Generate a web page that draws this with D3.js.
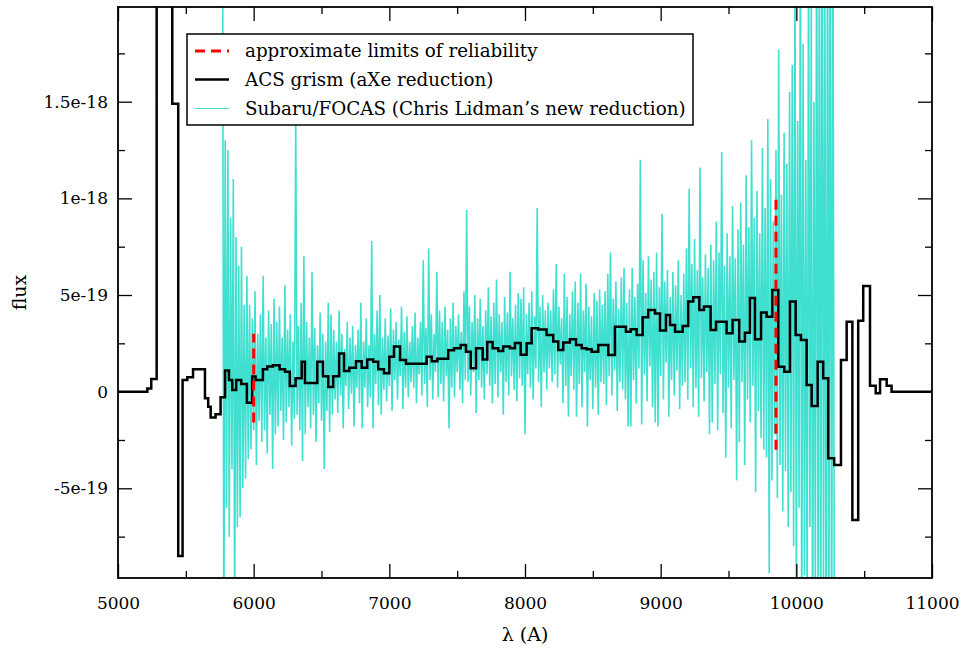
<!DOCTYPE html>
<html>
<head>
<meta charset="utf-8">
<script src="https://cdn.jsdelivr.net/npm/d3@7"></script>
<style>
  body { margin: 0; background: #fff; }
  text { font-family: "DejaVu Serif", "Liberation Serif", serif; fill: #000; }
</style>
</head>
<body>
<svg id="chart" width="965" height="663"></svg>
<script>
// ---- data (flux in units of 1e-19) ----

// ACS grism, aXe reduction: left edge of each step (Å) and its flux
const acsWave = [5000, 5216, 5245, 5285, 5400, 5444, 5476, 5511, 5553, 5641, 5665, 5683, 5719, 5756,
  5789, 5818, 5842, 5871, 5908, 5950, 5989, 6014, 6068, 6100, 6142, 6191, 6231, 6266, 6309, 6354,
  6378, 6469, 6511, 6550, 6586, 6630, 6666, 6705, 6754, 6796, 6837, 6881, 6918, 6961, 7000, 7034,
  7079, 7123, 7275, 7312, 7354, 7434, 7477, 7526, 7565, 7600, 7639, 7688, 7722, 7761, 7803, 7839,
  7889, 7926, 7968, 8012, 8049, 8097, 8159, 8208, 8245, 8282, 8331, 8376, 8418, 8454, 8491, 8540,
  8614, 8663, 8744, 8779, 8823, 8867, 8908, 8958, 8995, 9039, 9069, 9106, 9162, 9203, 9240, 9285,
  9319, 9368, 9408, 9486, 9530, 9579, 9621, 9658, 9695, 9740, 9781, 9823, 9867, 9911, 9953, 9995,
  10034, 10076, 10113, 10157, 10198, 10235, 10279, 10329, 10371, 10413, 10456, 10493, 10543, 10585,
  10617, 10666, 10702];
const acsFlux = [0, 0.17, 0.66, 30, 14.9, -8.5, 0.6, 0.74, 1.16, -0.34, -0.78, -1.34, -1.17, -0.29,
  1.1, 0.6, 0.09, 0.6, 0.4, -0.57, 0.78, 0.6, 1.16, 1.3, 1.37, 1.16, 1.03, 0.29, 0.69, 1.55,
  0.45, 1.55, 0.8, 0.24, 0.8, 1.97, 1.07, 1.24, 1.57, 1.24, 1.67, 1.55, 1.16, 0.95, 1.81, 2.33,
  1.64, 1.45, 1.81, 1.57, 1.7, 2.14, 2.24, 2.41, 2.07, 1.21, 2.24, 1.67, 2.57, 2.24, 2.1, 2.33,
  2.24, 2.52, 1.91, 2.5, 3.28, 3.22, 2.93, 2.59, 2.16, 2.54, 2.71, 2.42, 2.24, 2.19, 2.07, 2.42,
  1.9, 3.36, 3.1, 3.23, 2.93, 3.85, 4.23, 4.05, 3.16, 3.97, 3.45, 3.1, 3.4, 4.66, 4.88, 4.23,
  4.4, 3.19, 3.62, 3.02, 3.71, 2.59, 3.05, 4.85, 2.71, 4.09, 3.88, 5.26, 1.29, 1.03, 4.66, 2.93,
  2.67, 0.35, -0.74, 1.55, 0.69, -3.45, -3.79, 1.64, 3.62, -6.64, 3.67, 5.47, 0.3, -0.08,
  0.64, 0.3, 0];
const acsEnd = 11000;

// Subaru/FOCAS spectrum: uniform sampling from focasStart in steps of focasStep Å
const focasStart = 5770;
const focasStep = 10;
const focasFlux = [
  30, -14, 13, -6, 12.5, -7.5, 9, -4, 11, -12, 8, -7, 6.5, -6.5, 7.5, -5, 4.5, -4.5, 6, -3.5,
  4.5, -3, 3.8, -2, 5.2, -3.8, 3, -1.5, 4, -2.6, 6, -2, 2.8, -3.2, 4.2, -1.2, 3.5, -4, 4.8, -2.2,
  3.6, -1.8, 4.4, -1, 2.8, -2.5, 5.5, -1.6, 3.2, -0.8, 4, -2.8, 2.6, -1.4, 14, -1.2, 3.4, -2, 4.6, -3.6,
  7, -2.2, 3.6, -0.8, 2.8, -1.9, 6.2, -1.2, 3.3, -2.6, 2.4, -0.6, 4.1, -1.5, 3, -4, 2.6, -1, 4.6, -2.1,
  4, -1.2, 3.2, -0.4, 2.6, -1.1, 4.2, -0.2, 3, -1.9, 2.2, 0.3, 3.6, -0.9, 2.8, -0.1, 3.4, -1.8, 2.4, 0.2,
  3.2, -0.6, 4.6, -1.9, 2.6, 0.2, 3.8, -0.8, 2.4, -0.3, 7.8, -1.9, 3, 0.4, 4.2, -0.7, 5, -1.2, 2.8, 0.1,
  3.8, -0.5, 2.9, 0.3, 4.3, -1, 3.2, 0.6, 3.6, -0.4, 2.7, 0.8, 4.4, -0.9, 3.1, 0.2, 3.9, -0.3, 2.6, 0.5,
  3.4, 0.2, 4.1, -0.6, 2.8, 0.9, 3.6, -0.2, 6.8, 0.4, 3.3, -0.8, 7.4, 0.6, 4, -0.4, 3, 1, 6.2, -0.3,
  4.2, 0.4, 3.6, -0.5, 4.4, 0.8, 3.2, -1.9, 3.8, 0.2, 4.6, -0.3, 3.4, 1, 4, 0.1, 3.1, -0.6, 5.2, 0.6,
  9.4, 0.5, 4.4, -0.2, 3.6, 1, 5, -1.1, 3.8, 0.6, 4.8, 0.2, 3.4, -0.4, 4.2, 0.9, 5.4, 0.3, 3.9, -0.6,
  4.6, 0.4, 5.8, -0.3, 4, 1, 3.6, -1.2, 4.9, 0.5, 4.1, -0.2, 6.2, 0.8, 3.8, 0.1, 4.5, -0.5, 5.1, 0.7,
  4.8, 0.3, 5.4, -2.2, 4, 0.9, 4.6, 0.2, 5.2, -0.4, 3.9, 1.2, 9.5, 0.5, 4.4, -0.8, 5, 1, 4.2, 0.1,
  4.6, 1.2, 4.2, 0.5, 5.3, 0.9, 6.6, 0.2, 4.4, 1.4, 3.8, -0.6, 6.1, 0.3, 4.9, -1.3, 4, 0.8, 5.2, 0.1,
  5.7, -1.3, 4.6, 0.4, 6.1, -0.8, 4.2, 1, 5.6, -1.8, 4.4, 0.6, 3.9, -0.9, 5.1, 0.2, 4.7, -1.2, 5.3, 0.5,
  4.5, 0.4, 5.2, -0.7, 6.1, 0.8, 7.2, -0.2, 4.8, 1.1, 5.7, -1, 4.3, 0.5, 5.9, 0.1, 6.4, -0.4, 4.6, -1.8,
  5.3, -1.8, 6.4, 0.6, 4.9, -0.6, 5.6, 1.2, 12, -1.7, 6.8, 0.9, 5.1, -0.5, 7, 1.3, 5.8, -0.8, 6.2, -1.6,
  7.2, -1.8, 5.4, 0.8, 9.2, -0.4, 5.7, 1.5, 6.3, -1.3, 4.9, 0.6, 6.2, -0.2, 5.5, 1.1, 6.8, -0.9, 5, 0.3,
  6.1, 0.5, 7.4, -0.4, 10.5, 1.2, 6.6, -0.8, 7.9, 0.2, 6.3, -1.3, 11.6, 0.7, 5.9, -0.5, 7.1, 1, 6.4, -2.2,
  7.6, -1.6, 6.8, 0.4, 8.8, -2, 7.2, 0.9, 12.4, -1.1, 6.5, -3.4, 8.2, 0.2, 7, -1.9, 9.6, 0.6, 6.9, -4.6,
  8.4, -2.6, 9.8, 0.5, 7.6, -3.8, 11.2, -0.4, 8.5, -1.6, 13, 0.3, 9, -5.2, 10.4, -1, 8.2, -2.4, 12.6, -3,
  9.5, -3.4, 14.1, -9.4, 11, -4.6, 8.8, -2.2, 12.5, -5.5, 17.7, -3.8, 10.2, -6.2, 13.4, -4.1, 11.8, -7, 15.5, -5.2,
  16.9, -8, 22, -11, 14, -6, 26, -14, 18, -9.5, 12, -13, 24, -7, 20, -16, 15, -10.5, 28, -12,
  25, -15, 30, -11, 22, -18, 27, -14, 32, -16, 24, -12
];

// approximate limits of reliability (vertical dashed markers)
const limitWave = [6000, 9850];
const limitLow = [-1.6, -3];
const limitHigh = [3, 10];

// axis ticks
const xMajor = [5000, 6000, 7000, 8000, 9000, 10000, 11000];
const xMinor = [5500, 6500, 7500, 8500, 9500, 10500];
const yMajor = [-5, 0, 5, 10, 15];
const yMajorLabels = ["-5e-19", "0", "5e-19", "1e-18", "1.5e-18"];
const yMinor = [-7.5, -2.5, 2.5, 7.5, 12.5, 17.5];

const legendItems = [
  { label: "approximate limits of reliability", color: "#ff0000", width: 3, dash: "10,6" },
  { label: "ACS grism (aXe reduction)", color: "#000000", width: 2.5, dash: null },
  { label: "Subaru/FOCAS (Chris Lidman\u2019s new reduction)", color: "#40e0d0", width: 1.2, dash: null }
];

// ---- layout ----
const svg = d3.select("#chart");
const L = 118, R = 932, T = 7, B = 578;

const x = d3.scaleLinear().domain([5000, 11000]).range([L, R]);
const y = d3.scaleLinear().domain([-9.64, 19.9]).range([B, T]);

svg.append("defs").append("clipPath").attr("id", "plotClip")
  .append("rect").attr("x", L).attr("y", T).attr("width", R - L).attr("height", B - T);

const plot = svg.append("g").attr("clip-path", "url(#plotClip)");

// Subaru/FOCAS spectrum
const focasPts = focasFlux.map((f, i) => [focasStart + i * focasStep, f]);
plot.append("path")
  .datum(focasPts)
  .attr("fill", "none")
  .attr("stroke", "#40e0d0")
  .attr("stroke-width", 1.6)
  .attr("stroke-linejoin", "bevel")
  .attr("d", d3.line().x(d => x(d[0])).y(d => y(d[1])));

// ACS step spectrum
const acsPts = acsWave.map((w, i) => [w, acsFlux[i]]);
acsPts.push([acsEnd, acsFlux[acsFlux.length - 1]]);
plot.append("path")
  .datum(acsPts)
  .attr("fill", "none")
  .attr("stroke", "#000")
  .attr("stroke-width", 2.5)
  .attr("d", d3.line().x(d => x(d[0])).y(d => y(d[1])).curve(d3.curveStepAfter));

// reliability limits
plot.selectAll("line.limit")
  .data(limitWave)
  .join("line")
  .attr("class", "limit")
  .attr("x1", d => x(d)).attr("x2", d => x(d))
  .attr("y1", (d, i) => y(limitLow[i]))
  .attr("y2", (d, i) => y(limitHigh[i]))
  .attr("stroke", "#ff0000")
  .attr("stroke-width", 3)
  .attr("stroke-dasharray", "10,6");

// ---- axes (ticks pointing inward on all four sides) ----
function styleAxis(g) {
  g.select(".domain").remove();
  g.selectAll(".tick line").attr("stroke", "#000").attr("stroke-width", 1.3);
  g.selectAll(".tick text").style("font-size", "17px").style("font-family", "DejaVu Serif, serif");
}

svg.append("g").attr("transform", `translate(0,${B})`)
  .call(d3.axisBottom(x).tickValues(xMajor).tickFormat(d3.format("d")).tickSize(-14).tickPadding(19))
  .call(styleAxis);
svg.append("g").attr("transform", `translate(0,${B})`)
  .call(d3.axisBottom(x).tickValues(xMinor).tickFormat("").tickSize(-7))
  .call(styleAxis);
svg.append("g").attr("transform", `translate(0,${T})`)
  .call(d3.axisTop(x).tickValues(xMajor).tickFormat("").tickSize(-14))
  .call(styleAxis);
svg.append("g").attr("transform", `translate(0,${T})`)
  .call(d3.axisTop(x).tickValues(xMinor).tickFormat("").tickSize(-7))
  .call(styleAxis);

svg.append("g").attr("transform", `translate(${L},0)`)
  .call(d3.axisLeft(y).tickValues(yMajor).tickFormat((d, i) => yMajorLabels[i]).tickSize(-14).tickPadding(10))
  .call(styleAxis);
svg.append("g").attr("transform", `translate(${L},0)`)
  .call(d3.axisLeft(y).tickValues(yMinor).tickFormat("").tickSize(-7))
  .call(styleAxis);
svg.append("g").attr("transform", `translate(${R},0)`)
  .call(d3.axisRight(y).tickValues(yMajor).tickFormat("").tickSize(-14))
  .call(styleAxis);
svg.append("g").attr("transform", `translate(${R},0)`)
  .call(d3.axisRight(y).tickValues(yMinor).tickFormat("").tickSize(-7))
  .call(styleAxis);

// frame
svg.append("rect")
  .attr("x", L).attr("y", T).attr("width", R - L).attr("height", B - T)
  .attr("fill", "none").attr("stroke", "#000").attr("stroke-width", 1.8);

// axis titles
svg.append("text")
  .attr("x", (L + R) / 2).attr("y", 641)
  .attr("text-anchor", "middle")
  .style("font-size", "19px")
  .text("\u03bb (A)");
svg.append("text")
  .attr("transform", `translate(26,${(T + B) / 2}) rotate(-90)`)
  .attr("text-anchor", "middle")
  .style("font-size", "19px")
  .text("flux");

// ---- legend ----
const lg = svg.append("g");
lg.append("rect")
  .attr("x", 187).attr("y", 34).attr("width", 506).attr("height", 91)
  .attr("fill", "#fff").attr("stroke", "#000").attr("stroke-width", 1.5);
const rowY = [51, 79.5, 108.5];
legendItems.forEach((it, i) => {
  lg.append("line")
    .attr("x1", 195).attr("x2", 229)
    .attr("y1", rowY[i]).attr("y2", rowY[i])
    .attr("stroke", it.color).attr("stroke-width", it.width)
    .attr("stroke-dasharray", it.dash);
  lg.append("text")
    .attr("x", 245).attr("y", rowY[i] + 6)
    .style("font-size", "18.3px")
    .text(it.label);
});
</script>
</body>
</html>
